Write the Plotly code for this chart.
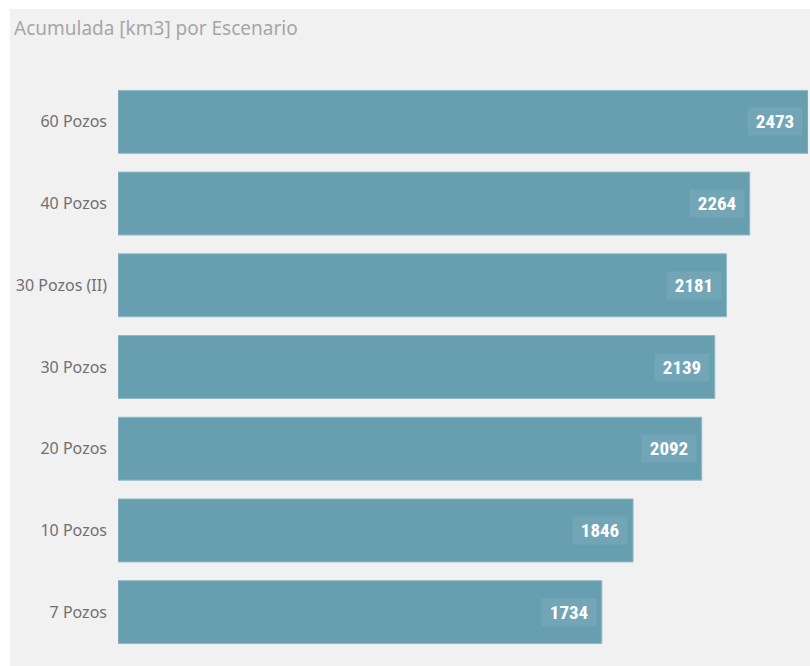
import plotly.graph_objects as go

categories = ["60 Pozos", "40 Pozos", "30 Pozos (II)", "30 Pozos", "20 Pozos", "10 Pozos", "7 Pozos"]
values = [2473, 2264, 2181, 2139, 2092, 1846, 1734]
title_text = "Acumulada [km3] por Escenario"

W, H = 810, 666
ml, mr, mt, mb = 118, 2, 81, 13
pw, ph = W - ml - mr, H - mt - mb

fig = go.Figure()
fig.add_trace(go.Bar(
    y=categories, x=values, orientation="h",
    marker=dict(color="#679fb1", line=dict(color="#8fbac6", width=1)),
    hoverinfo="x+y",
))

for c, v in zip(categories, values):
    fig.add_annotation(
        x=v, y=c, xref="x", yref="y", text=str(v), showarrow=False,
        xanchor="right", yanchor="middle", xshift=-5,
        width=54, height=27, borderpad=0, align="center", valign="middle",
        font=dict(family="Roboto Condensed", size=19, color="white", weight="bold"),
        bgcolor="rgba(255,255,255,0.08)",
    )

# white outer strips (left and top)
fig.add_shape(type="rect", xref="paper", yref="paper",
              x0=(0 - ml) / pw, x1=(10 - ml) / pw, y0=(H - mb - 700) / ph, y1=(H - mb + 50) / ph,
              fillcolor="white", line_width=0, layer="below")
fig.add_shape(type="rect", xref="paper", yref="paper",
              x0=(0 - ml) / pw, x1=(900 - ml) / pw, y0=(H - mb - 9) / ph, y1=(H - mb + 50) / ph,
              fillcolor="white", line_width=0, layer="below")

fig.add_annotation(
    text=title_text, xref="paper", yref="paper",
    x=(12 - ml) / pw, y=(H - mb - 28) / ph, xanchor="left", yanchor="middle",
    showarrow=False, font=dict(family="Noto Sans", size=19, color="#a6a6a6"),
)

fig.update_layout(
    width=W, height=H,
    margin=dict(l=ml, r=mr, t=mt, b=mb),
    paper_bgcolor="#f1f1f1", plot_bgcolor="#f1f1f1",
    bargap=0.23, showlegend=False,
    xaxis=dict(range=[0, 2473], visible=False, fixedrange=True),
    yaxis=dict(autorange="reversed", showgrid=False, zeroline=False, showline=False,
               ticks="", ticklabelstandoff=10, fixedrange=True,
               tickfont=dict(family="Noto Sans", size=16, color="#707070")),
)

fig.write_html("out.html", config={"displayModeBar": False},
               post_script="document.body.style.margin='0';document.body.style.overflow='hidden';")
